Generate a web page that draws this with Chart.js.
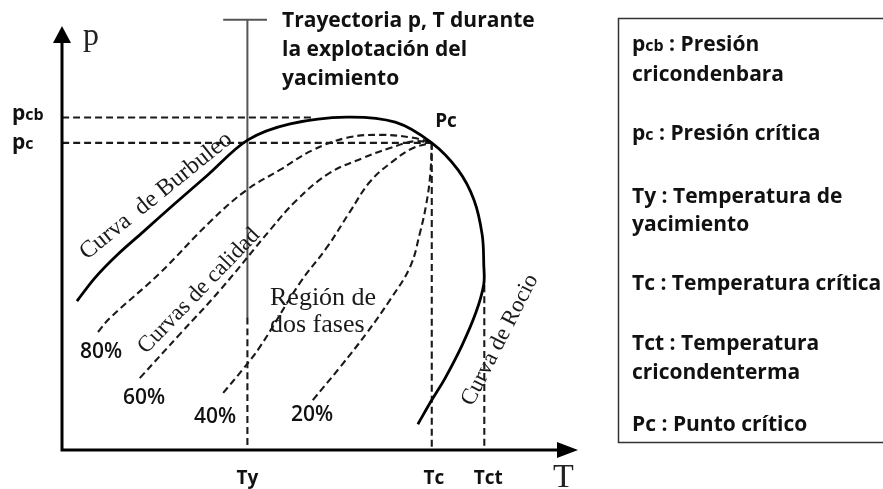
<!DOCTYPE html>
<html>
<head>
<meta charset="utf-8">
<script src="https://cdn.jsdelivr.net/npm/chart.js@4.4.1/dist/chart.umd.min.js"></script>
<style>
html, body { margin: 0; padding: 0; background: #fff; }
canvas { display: block; }
</style>
</head>
<body>
<canvas id="mycanvas" width="883" height="489"></canvas>
<script>
// values, T and p in relative units (0-100)
var Ty = 36, Tc = 71.8, Tct = 82;
var pcb = 78.6, pc = 72.6;

// phase envelope: bubble curve -> Pc -> dew curve
var envelopeT = [2.9, 6.4, 10.7, 15.7, 21.6, 28.3, 36.1, 44.3, 55.3, 64.7, 71.8, 76.9, 80.0, 81.6, 81.9, 81.9, 80.4, 77.7, 74.4, 71.8, 69.1];
var envelopeP = [35.2, 40.7, 46.1, 51.5, 57.9, 65.0, 73.3, 77.1, 78.7, 77.5, 72.6, 66.2, 59.1, 50.8, 43.7, 39.2, 32.6, 24.8, 17.0, 11.8, 6.1];

// quality curves (all end in the critical point)
var q80T = [7.0, 9.3, 19.0, 28.7, 35.9, 42.3, 48.7, 55.3, 61.7, 68.2, 71.8];
var q80P = [27.9, 31.2, 41.8, 53.9, 61.5, 66.2, 70.9, 73.8, 74.5, 73.8, 72.6];
var q60T = [15.1, 22.9, 30.7, 40.4, 45.6, 52.0, 58.4, 63.7, 68.5, 71.8];
var q60P = [17.0, 27.4, 37.8, 52.0, 59.1, 65.5, 69.0, 71.4, 73.0, 72.6];
var q40T = [31.3, 35.0, 38.4, 46.2, 51.5, 55.9, 59.8, 64.1, 68.2, 71.8];
var q40P = [13.5, 18.9, 24.3, 39.5, 48.0, 56.3, 63.4, 68.1, 71.4, 72.6];
var q20T = [48.7, 54.0, 59.2, 63.7, 67.6, 69.5, 70.7, 71.5, 71.8];
var q20P = [11.8, 19.6, 27.7, 35.5, 43.3, 51.3, 57.9, 65.0, 72.6];
var qualityLabels = ["80%", "60%", "40%", "20%"];

// reservoir trajectory at Ty
var trajTop = 101.7, trajSolidEnd = 31.4;
var trajBarT = [31.3, 39.8];
var pcbEndT = 48.7;
var tctTopP = 39;

var legendLines = [
  ["pcb", " : Presión"], ["", "cricondenbara"],
  ["pc", " : Presión crítica"],
  ["", "Ty : Temperatura de"], ["", "yacimiento"],
  ["", "Tc : Temperatura crítica"],
  ["", "Tct : Temperatura"], ["", "cricondenterma"],
  ["", "Pc : Punto crítico"]
];

function pts(ts, ps) {
  var out = [];
  for (var i = 0; i < ts.length; i++) out.push({x: ts[i], y: ps[i]});
  return out;
}

function dashed(data) {
  return {data: data, borderColor: "#1a1a1a", borderWidth: 2.1, borderDash: [7, 4], tension: 0.4};
}

var ink = "#111";
var sansB = "bold 21px 'Open Sans'";
var serif = "Liberation Serif";

function rotText(ctx, text, x, y, deg, font) {
  ctx.save();
  ctx.translate(x, y);
  ctx.rotate(deg * Math.PI / 180);
  ctx.font = font;
  ctx.textAlign = "center";
  ctx.textBaseline = "middle";
  ctx.fillText(text, 0, 0);
  ctx.restore();
}

// "pcb" style label: p normal, rest a bit smaller
function subLabel(ctx, main, rest, x, y) {
  ctx.font = sansB;
  ctx.fillText(main.charAt(0), x, y);
  var w = ctx.measureText(main.charAt(0)).width;
  ctx.font = "bold 16px 'Open Sans'";
  var sub = main.substring(1);
  ctx.fillText(sub, x + w, y);
  w += ctx.measureText(sub).width;
  ctx.font = sansB;
  ctx.fillText(rest, x + w, y);
}

var diagramPlugin = {
  id: "diagram",
  afterDraw: function(chart) {
    var ctx = chart.ctx;
    var xs = chart.scales.x, ys = chart.scales.y;
    var x0 = xs.getPixelForValue(0), y0 = ys.getPixelForValue(0);
    ctx.save();
    // axes
    ctx.strokeStyle = "#000";
    ctx.fillStyle = "#000";
    ctx.lineWidth = 3;
    ctx.beginPath();
    ctx.moveTo(x0, y0 + 1.5);
    ctx.lineTo(x0, 42);
    ctx.moveTo(x0 - 1.5, y0);
    ctx.lineTo(558, y0);
    ctx.stroke();
    ctx.beginPath();
    ctx.moveTo(x0, 26); ctx.lineTo(x0 - 9, 43); ctx.lineTo(x0 + 9, 43); ctx.closePath();
    ctx.fill();
    ctx.beginPath();
    ctx.moveTo(578, y0); ctx.lineTo(557, y0 - 8); ctx.lineTo(557, y0 + 8); ctx.closePath();
    ctx.fill();

    // axis names
    ctx.fillStyle = "#222";
    ctx.textAlign = "left";
    ctx.textBaseline = "alphabetic";
    ctx.font = "32px " + serif;
    ctx.fillText("p", 83, 45);
    ctx.font = "34px " + serif;
    ctx.fillText("T", 553, 487);

    ctx.fillStyle = ink;
    subLabel(ctx, "pcb", "", 12, 120);
    subLabel(ctx, "pc", "", 12, 149);

    ctx.font = "bold 19px 'Open Sans'";
    ctx.textAlign = "center";
    ctx.fillText("Ty", xs.getPixelForValue(Ty), 484);
    ctx.fillText("Tc", xs.getPixelForValue(Tc) + 2, 484);
    ctx.fillText("Tct", xs.getPixelForValue(Tct) + 4, 484);
    ctx.fillText("Pc", 446, 127);

    ctx.font = sansB;
    ctx.textAlign = "left";
    ctx.fillText("Trayectoria p, T durante", 282, 27);
    ctx.fillText("la explotación del", 282, 56);
    ctx.fillText("yacimiento", 282, 85);

    // quality labels
    ctx.font = "600 21px 'Open Sans'";
    ctx.textAlign = "center";
    var qPos = [[101, 358], [144, 404], [215, 423], [312, 421]];
    for (var i = 0; i < qualityLabels.length; i++) {
      ctx.fillText(qualityLabels[i], qPos[i][0], qPos[i][1]);
    }

    // serif notes on the curves
    ctx.fillStyle = "#1a1a1a";
    rotText(ctx, "Curva  de Burbuleo", 156, 196, -39, "24px " + serif);
    rotText(ctx, "Curvas de calidad", 199, 291, -46, "23px " + serif);
    rotText(ctx, "Curva de Rocio", 500, 340, -63, "23px " + serif);
    ctx.font = "26px " + serif;
    ctx.textAlign = "left";
    ctx.textBaseline = "alphabetic";
    ctx.fillText("Región de", 270, 305);
    ctx.fillText("dos fases", 270, 332);

    // legend box
    ctx.strokeStyle = "#333";
    ctx.lineWidth = 1.5;
    ctx.strokeRect(618.5, 18.5, 300, 424);
    ctx.fillStyle = ink;
    ctx.textAlign = "left";
    var ly = [44, 74, 133, 196, 224, 283, 343, 372, 424];
    for (var j = 0; j < legendLines.length; j++) {
      var l = legendLines[j];
      if (l[0]) subLabel(ctx, l[0], l[1], 632, ly[j] + 7);
      else { ctx.font = sansB; ctx.fillText(l[1], 632, ly[j] + 7); }
    }
    ctx.restore();
  }
};

var ctx = document.getElementById("mycanvas");
var chart = new Chart(ctx, {
  type: "scatter",
  data: {
    datasets: [
      {data: pts(envelopeT, envelopeP), borderColor: "#000", borderWidth: 2.8, tension: 0.35},
      dashed(pts(q80T, q80P)),
      dashed(pts(q60T, q60P)),
      dashed(pts(q40T, q40P)),
      dashed(pts(q20T, q20P)),
      dashed([{x: 0, y: pcb}, {x: pcbEndT, y: pcb}]),
      dashed([{x: 0, y: pc}, {x: Tc, y: pc}]),
      dashed([{x: Tc, y: pc}, {x: Tc, y: 0}]),
      dashed([{x: Tct, y: tctTopP}, {x: Tct, y: 0}]),
      dashed([{x: Ty, y: trajSolidEnd}, {x: Ty, y: 0}]),
      {data: [{x: Ty, y: trajTop}, {x: Ty, y: trajSolidEnd}], borderColor: "#555", borderWidth: 2},
      {data: [{x: trajBarT[0], y: trajTop}, {x: trajBarT[1], y: trajTop}], borderColor: "#555", borderWidth: 2}
    ]
  },
  options: {
    responsive: false,
    animation: false,
    showLine: true,
    clip: false,
    layout: {padding: {left: 62, right: 306, top: 18.5, bottom: 39}},
    elements: {point: {radius: 0, hoverRadius: 0}},
    scales: {
      x: {type: "linear", min: 0, max: 100, display: false},
      y: {type: "linear", min: 0, max: 102, display: false}
    },
    plugins: {legend: {display: false}, tooltip: {enabled: false}}
  },
  plugins: [diagramPlugin]
});
</script>
</body>
</html>
